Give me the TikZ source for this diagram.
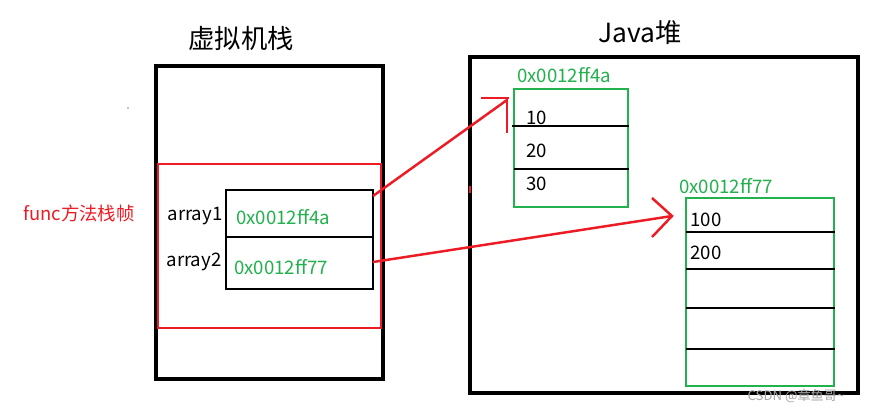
\documentclass[tikz,border=0pt]{standalone}
\usepackage{fontspec}
\setmainfont{Noto Sans CJK SC}
\definecolor{myred}{RGB}{237,28,36}
\definecolor{mygreen}{RGB}{34,177,76}
\begin{document}
\begin{tikzpicture}[x=0.02cm,y=-0.02cm,
  blackbox/.style={draw=black,line width=2.4pt},
  redbox/.style={draw=myred,line width=1.3pt},
  greenbox/.style={draw=mygreen,line width=1.6pt},
  cell/.style={draw=black,line width=1.7pt},
  redline/.style={draw=myred,line width=1.4pt},
  lbl/.style={inner sep=0pt,font=\fontsize{10.6pt}{12pt}\selectfont},
  glbl/.style={lbl,text=mygreen},
  title/.style={inner sep=0pt,font=\fontsize{15pt}{17pt}\selectfont}]
\useasboundingbox (0,0) rectangle (873,413);
\fill[white] (0,0) rectangle (873,413);
% titles
\node[title] (t1) at (241,38) {虚拟机栈};
\node[title] (t2) at (640,33) {Java堆};
% stack
\draw[blackbox] (156,66) rectangle (383,379);
\draw[redbox] (158,164) rectangle (381,328);
\node[inner sep=0pt,text=myred,font=\fontsize{10.5pt}{12pt}\selectfont] (func) at (79,213) {func方法栈帧};
\draw[cell] (226,190) rectangle (373,289);
\draw[cell] (226,237) -- (373,237);
\node[lbl] (a1) at (195,216) {array1};
\node[lbl] (a2) at (194,262) {array2};
\node[glbl,anchor=west] (v1) at (236,217) {0x0012ff4a};
\node[glbl,anchor=west] (v2) at (234,267) {0x0012ff77};
\coordinate (s1) at (373,196);
\coordinate (s2) at (373,262);
\fill (128,108) circle (0.6);
% heap
\draw[blackbox] (470,57) rectangle (858,393);
% heap object 1
\draw[greenbox] (514,89) rectangle (628,207);
\draw[cell] (512,126) -- (629,126);
\draw[cell] (514,169) -- (629,169);
\node[glbl] (h1) at (564,75) {0x0012ff4a};
\node[lbl,anchor=west] (n10) at (526,118) {10};
\node[lbl,anchor=west] (n20) at (526,151) {20};
\node[lbl,anchor=west] (n30) at (526,184) {30};
% heap object 2
\draw[greenbox] (686,198) rectangle (834,386);
\foreach \yy in {232,269,308,349} \draw[cell] (686,\yy) -- (835,\yy);
\node[glbl] (h2) at (726,186) {0x0012ff77};
\node[lbl,anchor=west] (n100) at (690,220) {100};
\node[lbl,anchor=west] (n200) at (690,253) {200};
% red arrows
\coordinate (e1) at (507,100);
\draw[redline] (s1) -- (e1);
\draw[redline] (481,98) -- (509,98);
\draw[redline] (507,98) -- (507,133);
\coordinate (e2) at (672,216);
\draw[redline] (s2) -- (e2);
\draw[redline] (652,198) -- (e2) -- (652,237);
\draw[redline] (470,186) -- (470,193);
% watermark
\node[inner sep=0pt,text=gray!70,font=\fontsize{7.5pt}{8pt}\selectfont] (wm) at (796,396) {CSDN @章鱼哥\char`~};
\end{tikzpicture}
\end{document}
